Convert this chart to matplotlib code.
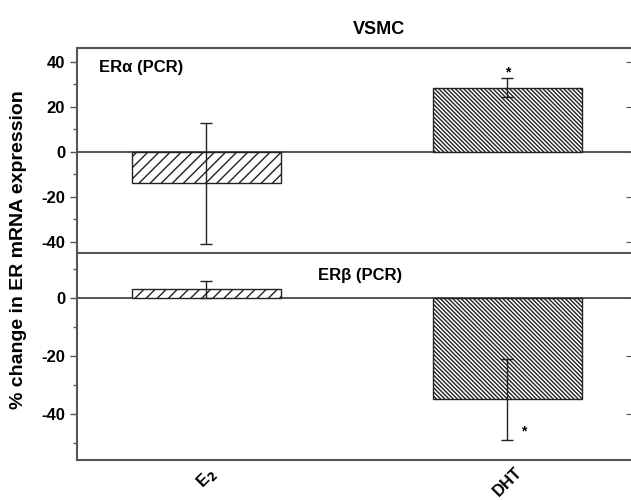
import matplotlib
matplotlib.use("Agg")
import matplotlib.pyplot as plt
from matplotlib.ticker import MultipleLocator

plt.rcParams['font.family'] = ['Liberation Sans', 'DejaVu Sans']
plt.rcParams['font.weight'] = 'bold'
plt.rcParams['hatch.linewidth'] = 1.0
plt.rcParams['hatch.color'] = '#222222'
plt.rcParams['axes.unicode_minus'] = False

categories = ['E$_2$', 'DHT']
era_values = [-14.0, 28.5]
era_errors = [27.0, 4.3]
erb_values = [3.0, -35.0]
erb_errors = [3.0, 14.0]
hatches = ['///', '\\\\\\\\\\\\\\\\']

fig = plt.figure(figsize=(6.31, 5.00), dpi=100)
L, W = 0.122, 0.88
ax1 = fig.add_axes([L, 0.494, W, 0.410])
ax2 = fig.add_axes([L, 0.080, W, 0.414])

x = [0, 1]
spine_c = '#555555'
for ax, vals, errs in [(ax1, era_values, era_errors), (ax2, erb_values, erb_errors)]:
    ax.axhline(0, color='#555555', lw=1.4, zorder=1)
    for xi, v, e, h in zip(x, vals, errs, hatches):
        ax.bar(xi, v, width=0.495, facecolor='white', edgecolor='#222222',
               hatch=h, lw=1.0, zorder=2)
        ax.errorbar(xi, v, yerr=e, fmt='none', ecolor='#222222', elinewidth=1.0,
                    capsize=4, capthick=1.0, zorder=3)
    ax.set_xlim(-0.43, 1.415)
    for s in ax.spines.values():
        s.set_color(spine_c)
        s.set_linewidth(1.5)
    ax.yaxis.set_minor_locator(MultipleLocator(10))
    ax.yaxis.set_major_locator(MultipleLocator(20))
    ax.tick_params(axis='y', which='both', left=True, right=False, direction='out',
                   color=spine_c, labelsize=12, width=1.0)
    ax.tick_params(axis='y', which='major', length=5)
    ax.tick_params(axis='y', which='minor', length=3)
    ax.secondary_yaxis('right').tick_params(direction='in', length=4, color=spine_c,
                                            labelright=False)

ax1.set_ylim(-45, 46.2)
ax1.set_yticks([-40, -20, 0, 20, 40])
ax1.set_xticks([])
ax1.spines['bottom'].set_visible(False)

ax2.set_ylim(-55.9, 15.5)
ax2.set_yticks([-40, -20, 0])
ax2.set_xticks(x)
ax2.set_xticklabels(categories, rotation=45, ha='center', va='top',
                    fontsize=12, fontweight='bold')
ax2.tick_params(axis='x', length=0, pad=3)

for ax in (ax1, ax2):
    for lab in ax.get_yticklabels():
        lab.set_fontweight('bold')

ax1.text(0.04, 0.94, 'ER\u03b1 (PCR)', transform=ax1.transAxes, fontsize=12,
         fontweight='bold', va='top', ha='left')
ax2.text(0.51, 0.89, 'ER\u03b2 (PCR)', transform=ax2.transAxes, fontsize=12,
         fontweight='bold', va='center', ha='center')

ax1.text(1, era_values[1] + era_errors[1] + 2.5, '*', ha='center', va='center', fontsize=10)
ax2.text(1.055, erb_values[1] - erb_errors[1] + 3, '*', ha='center', va='center', fontsize=10)

fig.text(0.6, 0.94, 'VSMC', ha='center', va='center', fontsize=13, fontweight='bold')
fig.text(0.03, 0.5, '% change in ER mRNA expression', rotation=90, ha='center',
         va='center', fontsize=14, fontweight='bold')

fig.savefig('out.png', dpi=100)
